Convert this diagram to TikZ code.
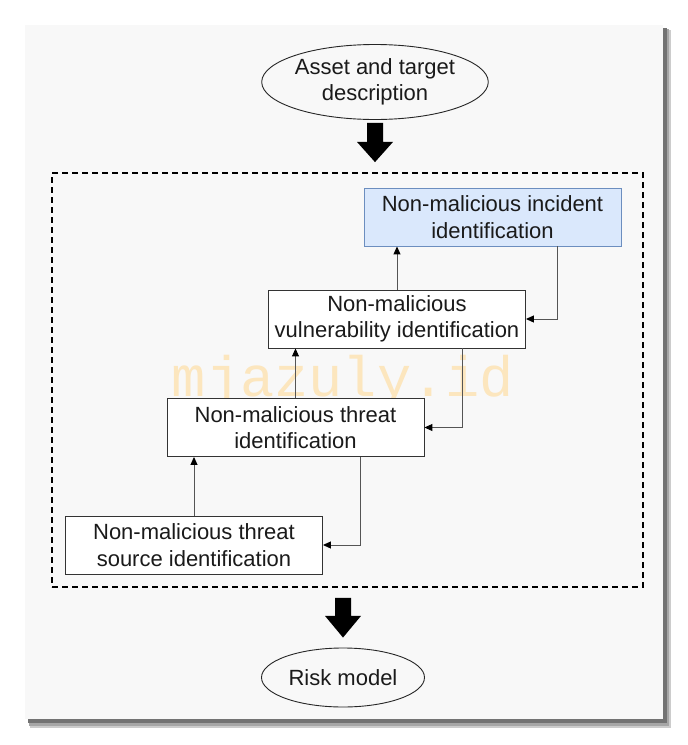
\documentclass[tikz,border=0pt]{standalone}
\usepackage{fontspec}
\setmainfont{Liberation Sans}
\newfontfamily\wmfont{Liberation Mono}
\usetikzlibrary{shapes.geometric,arrows.meta,calc}
\definecolor{panelbg}{HTML}{F8F8F8}
\definecolor{blfill}{HTML}{DAE8FC}
\definecolor{bldraw}{HTML}{6C8EBF}
\definecolor{wm}{HTML}{FCE6BE}
\definecolor{conn}{HTML}{555555}
\definecolor{txt}{HTML}{1A1A1A}
\tikzset{
  every node/.style={text=txt, font=\fontsize{22}{26.5}\selectfont},
  oval/.style={ellipse, draw=black!85, line width=0.9pt, inner sep=0pt, align=center},
  stepbox/.style={rectangle, draw=black!80, line width=0.9pt, fill=white, minimum width=257pt, minimum height=58pt, inner sep=0pt, align=center},
  conn/.style={draw=conn, line width=1pt, -{Triangle[length=8pt,width=7pt,color=black]}},
  frame/.style={rectangle, draw=black, line width=1.8pt, dash pattern=on 6pt off 4pt, minimum width=591pt, minimum height=414pt, inner sep=0pt}
}
\begin{document}
\begin{tikzpicture}[x=1pt,y=-1pt]
\useasboundingbox (0,0) rectangle (688,745);
% panel with shadow
\fill[black!20] (30,30) rectangle (671,728);
\fill[black!35] (29,29) rectangle (669,726);
\fill[black!55] (28,28) rectangle (667,723);
\fill[panelbg] (25,25) rectangle (663,719);
% watermark
\node[font=\wmfont\fontsize{57}{57}\selectfont, text=wm, anchor=base] (wmark) at (343,396) {mjazuly.id};
% frame
\node[frame] (frame) at (347.5,380) {};
% nodes
\node[oval, minimum width=220pt, minimum height=75pt] (asset) at (375,82) {Asset and target\\description};
\node[oval, minimum width=163pt, minimum height=59pt] (risk) at (343,677.5) {Risk model};
\node[stepbox, fill=blfill, draw=bldraw] (incident) at (492.5,217) {Non-malicious incident\\identification};
\node[stepbox] (vuln) at (397,319) {Non-malicious\\vulnerability identification};
\node[stepbox] (threat) at (295.5,427.5) {Non-malicious threat\\identification};
\node[stepbox] (source) at (194,545) {Non-malicious threat\\source identification};
% upward connectors
\draw[conn] (source.north) -- (source.north |- threat.south);
\draw[conn] (threat.north) -- (threat.north |- vuln.south);
\draw[conn] (vuln.north) -- (vuln.north |- incident.south);
% return connectors
\draw[conn] ([xshift=-64pt]incident.south east) |- (vuln.east);
\draw[conn] ([xshift=-63pt]vuln.south east) |- (threat.east);
\draw[conn] ([xshift=-64pt]threat.south east) |- (source.east);
% block arrows
\coordinate (a1) at ([yshift=-3pt]asset.south);
\coordinate (a2) at (asset.south |- frame.north);
\fill[black] ($(a1)+(-8,0)$) -- ($(a1)+(8,0)$) -- ($(a1)+(8,19)$) -- ($(a1)+(18,19)$) -- ($(a2)+(0,-10)$) -- ($(a1)+(-18,19)$) -- ($(a1)+(-8,19)$) -- cycle;
\coordinate (b1) at ([yshift=-10pt]risk.north |- frame.south);
\coordinate (b2) at ([yshift=10pt]risk.north);
\fill[black] ($(b1)+(-8,0)$) -- ($(b1)+(8,0)$) -- ($(b1)+(8,18)$) -- ($(b1)+(18,18)$) -- (b2) -- ($(b1)+(-18,18)$) -- ($(b1)+(-8,18)$) -- cycle;
\end{tikzpicture}
\end{document}
